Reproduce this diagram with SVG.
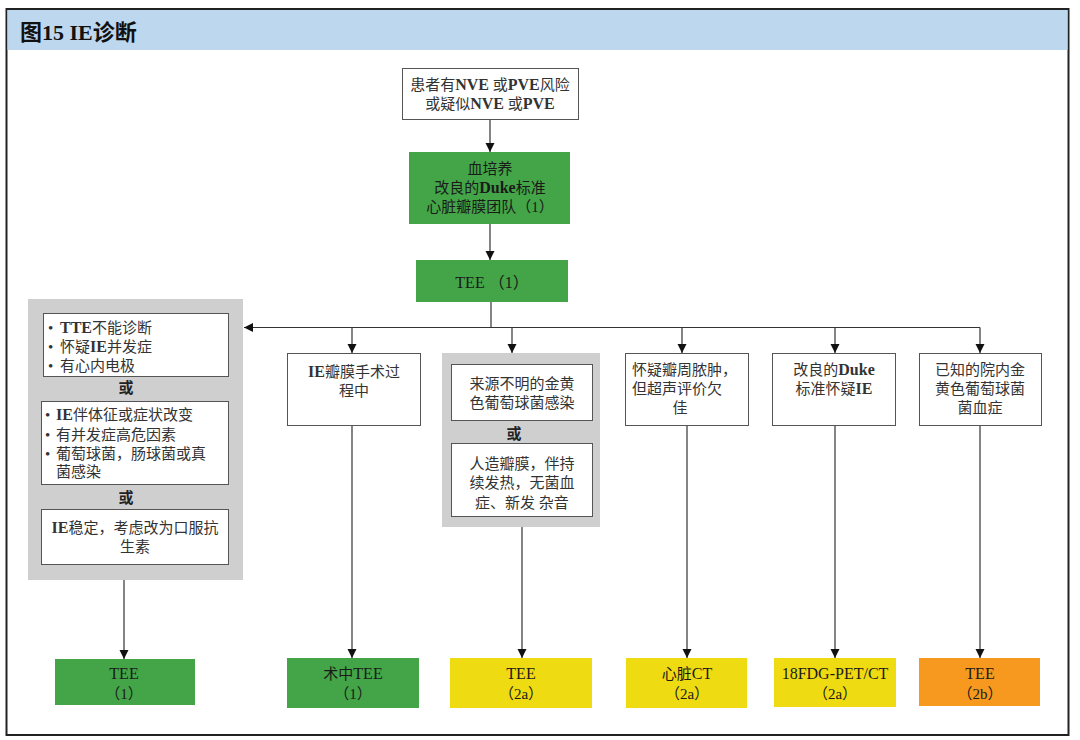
<svg xmlns="http://www.w3.org/2000/svg" width="1080" height="740" viewBox="0 0 1080 740">
<defs>
<marker id="ah" markerUnits="userSpaceOnUse" markerWidth="10" markerHeight="10" refX="9" refY="4.5" orient="auto"><path d="M0,0 L9,4.5 L0,9 z" fill="#111"/></marker>
<style>
text{font-family:"Liberation Serif","Noto Sans CJK SC",serif;font-size:15px;fill:#333;}
.c{text-anchor:middle;}
.dk{fill:#1a1a1a;}
.b{font-weight:bold;fill:#222;}
.L{font-weight:bold;font-size:16px;}
.wb{fill:#fff;stroke:#555;stroke-width:1;}
.gb{fill:#d0cfcf;}
.gr{fill:#43a547;}
.ye{fill:#efdb11;}
.or{fill:#f7991f;}
.ln{fill:none;stroke:#333;stroke-width:1.2;}
</style>
</defs>
<rect x="0" y="0" width="1080" height="740" fill="#fff"/>
<rect x="6.5" y="9" width="1062" height="726" fill="#fff" stroke="#222" stroke-width="2"/>
<rect x="7.5" y="10" width="1060" height="40" fill="#bdd7ee"/>
<text x="20" y="40" style="font-size:22px;font-weight:bold;fill:#111;">图15 IE诊断</text>

<g id="connectors">
<path class="ln" d="M490 119 V152" marker-end="url(#ah)"/>
<path class="ln" d="M490 224 V260" marker-end="url(#ah)"/>
<path class="ln" d="M491 302 V327.5"/>
<path class="ln" d="M980 327.5 H244" marker-end="url(#ah)"/>
<path class="ln" d="M352 327.5 V353" marker-end="url(#ah)"/>
<path class="ln" d="M512 327.5 V353" marker-end="url(#ah)"/>
<path class="ln" d="M682 327.5 V353" marker-end="url(#ah)"/>
<path class="ln" d="M835 327.5 V353" marker-end="url(#ah)"/>
<path class="ln" d="M980 327.5 V353" marker-end="url(#ah)"/>
<path class="ln" d="M124 580 V659" marker-end="url(#ah)"/>
<path class="ln" d="M352 426 V658" marker-end="url(#ah)"/>
<path class="ln" d="M522 527 V658" marker-end="url(#ah)"/>
<path class="ln" d="M687 426 V658" marker-end="url(#ah)"/>
<path class="ln" d="M835 426 V658" marker-end="url(#ah)"/>
<path class="ln" d="M980 426 V658" marker-end="url(#ah)"/>
</g>

<g id="start">
<rect class="wb" x="402.5" y="68.5" width="176" height="51"/>
<text class="c" x="490" y="90">患者有<tspan class="L">NVE</tspan> 或<tspan class="L">PVE</tspan>风险</text>
<text class="c" x="490" y="109">或疑似<tspan class="L">NVE</tspan> 或<tspan class="L">PVE</tspan></text>
</g>

<g id="culture">
<rect class="gr" x="409" y="152" width="161" height="72"/>
<text class="c dk" x="490" y="174">血培养</text>
<text class="c dk" x="490" y="193">改良的<tspan class="L">Duke</tspan>标准</text>
<text class="c dk" x="490" y="212">心脏瓣膜团队（1）</text>
</g>

<g id="tee1">
<rect class="gr" x="416" y="260" width="152" height="42"/>
<text class="c dk" x="492" y="288" style="font-size:16px">TEE （1）</text>
</g>

<g id="left-criteria">
<rect class="gb" x="28" y="299" width="215" height="281"/>
<rect class="wb" x="43.5" y="313.5" width="185" height="63"/>
<text x="48" y="333">•</text><text x="60" y="333"><tspan class="L">TTE</tspan>不能诊断</text>
<text x="48" y="352">•</text><text x="60" y="352">怀疑<tspan class="L">IE</tspan>并发症</text>
<text x="48" y="371">•</text><text x="60" y="371">有心内电极</text>
<text class="c b" x="126" y="393">或</text>
<rect class="wb" x="41.5" y="401.5" width="187" height="83"/>
<text x="45" y="420">•</text><text x="56" y="420"><tspan class="L">IE</tspan>伴体征或症状改变</text>
<text x="45" y="440">•</text><text x="56" y="440">有并发症高危因素</text>
<text x="45" y="459">•</text><text x="56" y="459">葡萄球菌，肠球菌或真</text>
<text x="56" y="477">菌感染</text>
<text class="c b" x="126" y="503">或</text>
<rect class="wb" x="41.5" y="509.5" width="187" height="55"/>
<text class="c" x="135" y="533"><tspan class="L">IE</tspan>稳定，考虑改为口服抗</text>
<text class="c" x="135" y="552">生素</text>
</g>

<g id="surgery">
<rect class="wb" x="287.5" y="353.5" width="133" height="72"/>
<text class="c" x="354" y="377"><tspan class="L">IE</tspan>瓣膜手术过</text>
<text class="c" x="354" y="396">程中</text>
</g>

<g id="staph">
<rect class="gb" x="442" y="353" width="158" height="174"/>
<rect class="wb" x="451.5" y="364.5" width="141" height="56"/>
<text class="c" x="522" y="389">来源不明的金黄</text>
<text class="c" x="522" y="408">色葡萄球菌感染</text>
<text class="c b" x="514" y="439">或</text>
<rect class="wb" x="451.5" y="443.5" width="141" height="73"/>
<text class="c" x="522" y="469">人造瓣膜，伴持</text>
<text class="c" x="522" y="488">续发热，无菌血</text>
<text class="c" x="522" y="508">症、新发 杂音</text>
</g>

<g id="abscess">
<rect class="wb" x="625.5" y="353.5" width="123" height="72"/>
<text x="632" y="375">怀疑瓣周脓肿，</text>
<text x="632" y="394">但超声评价欠</text>
<text class="c" x="680" y="413">佳</text>
</g>

<g id="duke">
<rect class="wb" x="772.5" y="353.5" width="123" height="72"/>
<text class="c" x="834" y="375">改良的<tspan class="L">Duke</tspan></text>
<text class="c" x="834" y="394">标准怀疑<tspan class="L">IE</tspan></text>
</g>

<g id="nosocomial">
<rect class="wb" x="919.5" y="353.5" width="122" height="72"/>
<text class="c" x="980" y="375">已知的院内金</text>
<text class="c" x="980" y="394">黄色葡萄球菌</text>
<text class="c" x="980" y="413">菌血症</text>
</g>

<g id="out-tee1">
<rect class="gr" x="55" y="659" width="140" height="46"/>
<text class="c dk" x="124" y="679" style="font-size:16px">TEE</text>
<text class="c dk" x="124" y="699">（1）</text>
</g>
<g id="out-intraop">
<rect class="gr" x="287" y="658" width="132" height="50"/>
<text class="c dk" x="353" y="679">术中<tspan style="font-size:16px">TEE</tspan></text>
<text class="c dk" x="353" y="699">（1）</text>
</g>
<g id="out-tee2a">
<rect class="ye" x="450" y="658" width="142" height="50"/>
<text class="c dk" x="521" y="679" style="font-size:16px">TEE</text>
<text class="c dk" x="521" y="699">（2a）</text>
</g>
<g id="out-ct">
<rect class="ye" x="626" y="658" width="121" height="50"/>
<text class="c dk" x="687" y="679">心脏<tspan style="font-size:16px">CT</tspan></text>
<text class="c dk" x="687" y="699">（2a）</text>
</g>
<g id="out-pet">
<rect class="ye" x="774" y="658" width="122" height="49"/>
<text class="c dk" x="835" y="679" style="font-size:16px">18FDG-PET/CT</text>
<text class="c dk" x="835" y="699">（2a）</text>
</g>
<g id="out-tee2b">
<rect class="or" x="919" y="658" width="121" height="48"/>
<text class="c dk" x="980" y="679" style="font-size:16px">TEE</text>
<text class="c dk" x="980" y="699">（2b）</text>
</g>
</svg>
